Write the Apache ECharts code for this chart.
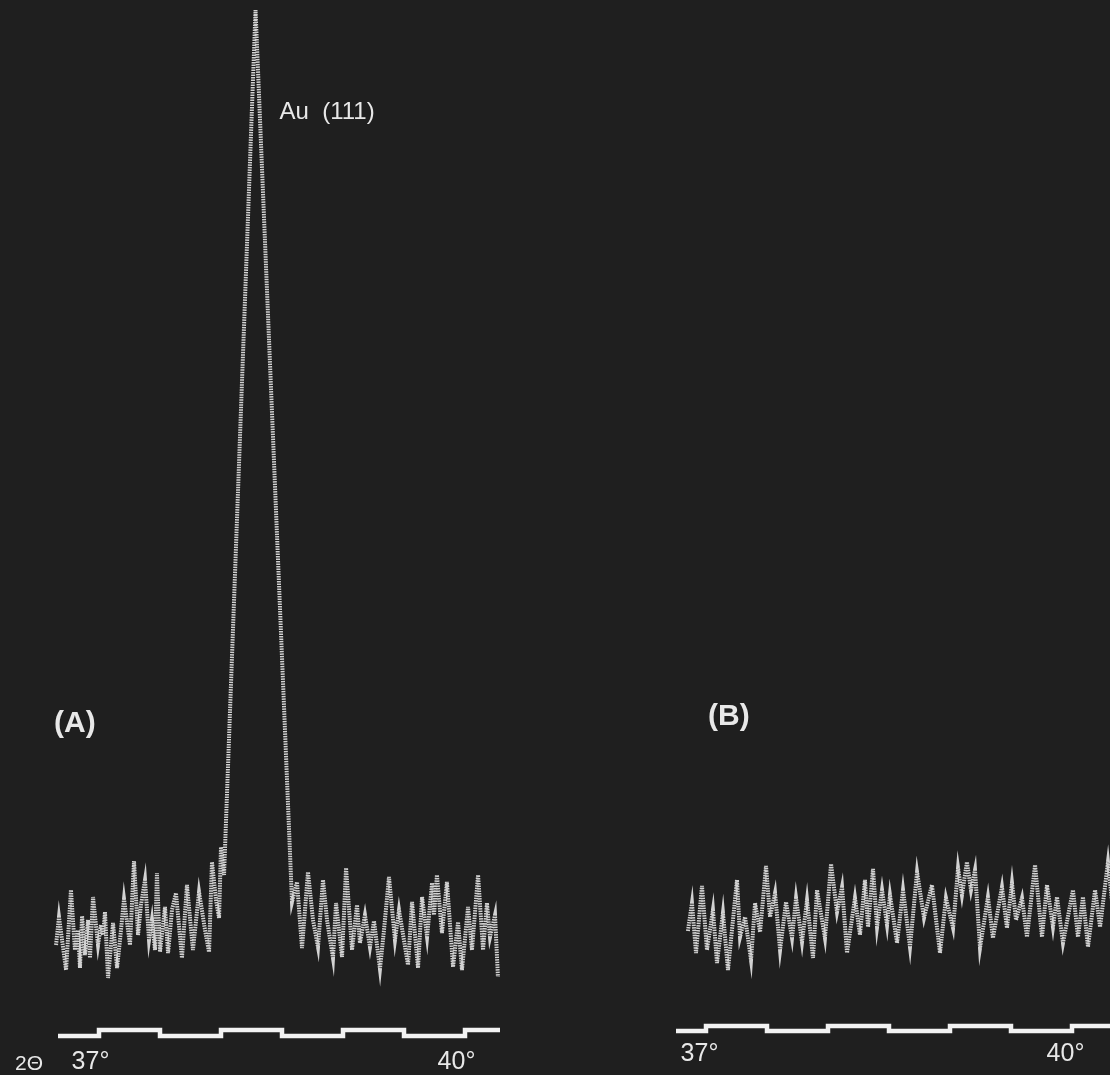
<!DOCTYPE html>
<html>
<head>
<meta charset="utf-8">
<script src="https://cdn.jsdelivr.net/npm/echarts@6/dist/echarts.min.js"></script>
<style>
html,body{margin:0;padding:0;background:#1f1f1f;}
#chart{width:1110px;height:1075px;}
</style>
</head>
<body>
<div id="chart"></div>
<script>
// Scan (A): 2-theta angles (deg) and intensity (arb. units)
const anglesA = [36.648,36.672,36.730,36.770,36.803,36.828,36.844,36.861,36.885,36.910,
  36.926,36.951,36.992,37.016,37.033,37.049,37.074,37.115,37.148,37.172,
  37.205,37.254,37.287,37.320,37.344,37.377,37.410,37.434,37.459,37.475,
  37.500,37.541,37.566,37.598,37.631,37.680,37.721,37.770,37.820,37.869,
  37.902,37.926,37.959,37.984,38.000,38.025,38.283,38.582,38.623,38.664,
  38.713,38.754,38.795,38.836,38.869,38.918,38.943,38.992,39.025,39.074,
  39.115,39.139,39.180,39.221,39.254,39.303,39.336,39.377,39.426,39.459,
  39.533,39.566,39.615,39.648,39.689,39.730,39.746,39.770,39.811,39.852,
  39.902,39.943,39.975,40.025,40.057,40.107,40.148,40.180,40.205,40.246,
  40.270];
const intensityA = [55,83,30,110,50,70,32,84,45,80,
  42,103,55,75,65,88,22,77,32,60,
  101,55,139,65,95,120,60,80,50,127,
  48,93,47,90,107,42,115,50,108,70,
  48,138,100,82,153,125,990,98,118,52,
  128,80,53,120,80,42,97,43,132,50,
  95,57,85,53,79,31,70,123,60,90,
  35,98,32,103,63,117,85,125,67,118,
  33,78,30,93,50,125,50,97,63,85,
  23];

// Scan (B)
const anglesB = [36.852,36.885,36.918,36.967,37.008,37.057,37.090,37.139,37.180,37.254,
  37.279,37.320,37.369,37.402,37.443,37.492,37.525,37.566,37.607,37.656,
  37.705,37.738,37.787,37.828,37.877,37.910,37.975,38.025,38.074,38.115,
  38.156,38.221,38.262,38.303,38.328,38.369,38.402,38.443,38.484,38.508,
  38.566,38.615,38.672,38.730,38.787,38.852,38.918,38.967,39.025,39.066,
  39.098,39.139,39.172,39.205,39.246,39.311,39.352,39.426,39.467,39.508,
  39.541,39.590,39.631,39.697,39.754,39.795,39.844,39.877,39.926,40.008,
  40.049,40.090,40.131,40.189,40.230,40.295,40.344];
const intensityB = [69,97,47,114,50,90,37,87,30,120,
  63,83,40,97,68,134,83,107,50,98,
  62,102,58,100,42,110,62,136,88,113,
  47,102,65,120,73,131,73,110,75,105,
  57,110,53,128,82,115,47,102,72,132,
  105,138,110,130,52,103,62,113,72,117,
  80,102,63,135,63,115,73,103,57,110,
  63,103,53,110,73,138,80];

// 2-theta scale marker: 0.5 degree steps
const markerStepsA = [36.664,37,37.5,38,38.5,39,39.5,40,40.287];
const markerStepsB = [36.754,37,37.5,38,38.5,39,39.5,40,40.5];
const markerLevels = [0,1,0,1,0,1,0,1,1];
const tickLabels = [37,40];
const peakLabel = 'Au  (111)';
const panelLabels = ['(A)','(B)'];
const axisTitle = '2\u0398';

const FONT = '"Liberation Sans", Arial, sans-serif';
const TRACE = '#d2d2d2';
const TEXT = '#e8e8e8';

const pairs = (xs, ys) => xs.map((x, i) => [x, ys[i]]);
let peakIdx = 0;
intensityA.forEach((v, i) => { if (v > intensityA[peakIdx]) peakIdx = i; });

const hiddenX = (min, max, gi) => ({
  type: 'value', gridIndex: gi, min, max, show: false
});
const markerX = (min, max, gi, margin, pad) => ({
  type: 'value', gridIndex: gi, min, max,
  axisLine: {show: false}, axisTick: {show: false}, splitLine: {show: false},
  axisLabel: {
    customValues: tickLabels, formatter: v => v + '\u00B0',
    color: TEXT, fontSize: 25, fontFamily: FONT, margin: margin,
    padding: [0, pad, 0, 0]
  }
});
const hiddenY = (min, max, gi) => ({
  type: 'value', gridIndex: gi, min, max, show: false
});

const chart = echarts.init(document.getElementById('chart'), null, {renderer: 'canvas'});
chart.setOption({
  backgroundColor: '#1f1f1f',
  animation: false,
  title: [
    {text: panelLabels[0], left: 54, top: 709, padding: 0,
     textStyle: {color: TEXT, fontSize: 30, fontWeight: 'bold', fontFamily: FONT}},
    {text: panelLabels[1], left: 708, top: 702, padding: 0,
     textStyle: {color: TEXT, fontSize: 30, fontWeight: 'bold', fontFamily: FONT}},
    {text: axisTitle, left: 15, top: 1054, padding: 0,
     textStyle: {color: TEXT, fontSize: 21, fontWeight: 'normal', fontFamily: FONT}}
  ],
  grid: [
    {left: 50.2, width: 457.5, top: 0, height: 1000},
    {left: 50.2, width: 457.5, top: 1030, height: 8},
    {left: 669.4, width: 440.6, top: 0, height: 1000},
    {left: 669.4, width: 440.6, top: 1026, height: 5}
  ],
  xAxis: [
    hiddenX(36.6, 40.35, 0),
    markerX(36.6, 40.35, 1, 14, 17),
    hiddenX(36.7, 40.3115, 2),
    markerX(36.7, 40.3115, 3, 11, 13)
  ],
  yAxis: [
    hiddenY(0, 1000, 0),
    hiddenY(0, 1, 1),
    hiddenY(0, 1000, 2),
    hiddenY(0, 1, 3)
  ],
  series: [
    {
      type: 'line', xAxisIndex: 0, yAxisIndex: 0, clip: false,
      data: pairs(anglesA, intensityA), showSymbol: false, symbol: 'none',
      lineStyle: {color: TRACE, width: 4, type: [1.5, 1], join: 'miter'},
      markPoint: {
        symbol: 'circle', symbolSize: 0,
        data: [{coord: [anglesA[peakIdx], intensityA[peakIdx]]}],
        label: {show: true, formatter: peakLabel, position: 'right', distance: 0,
                offset: [24, 102], color: TEXT, fontSize: 24, fontFamily: FONT}
      }
    },
    {
      type: 'line', xAxisIndex: 1, yAxisIndex: 1, step: 'end', clip: false,
      data: pairs(markerStepsA, markerLevels), showSymbol: false, symbol: 'none',
      lineStyle: {color: '#f2f2f2', width: 4.5, join: 'miter'}
    },
    {
      type: 'line', xAxisIndex: 2, yAxisIndex: 2, clip: false,
      data: pairs(anglesB, intensityB), showSymbol: false, symbol: 'none',
      lineStyle: {color: TRACE, width: 4, type: [1.5, 1], join: 'miter'}
    },
    {
      type: 'line', xAxisIndex: 3, yAxisIndex: 3, step: 'end', clip: false,
      data: pairs(markerStepsB, markerLevels), showSymbol: false, symbol: 'none',
      lineStyle: {color: '#f2f2f2', width: 4.5, join: 'miter'}
    }
  ]
});
</script>
</body>
</html>
